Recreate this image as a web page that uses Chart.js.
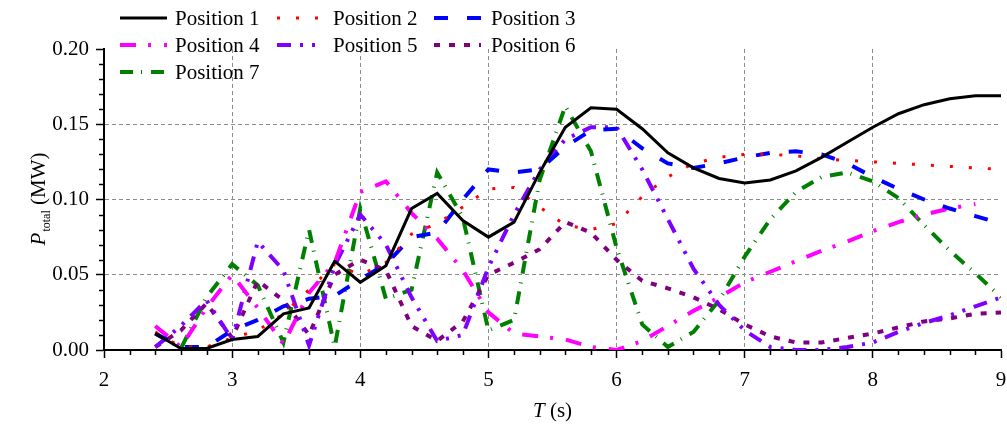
<!DOCTYPE html>
<html>
<head>
<meta charset="utf-8">
<script src="https://cdn.jsdelivr.net/npm/chart.js@4.4.1/dist/chart.umd.min.js"></script>
<style>
html, body { margin: 0; padding: 0; background: #fff; }
#wrap { width: 1007px; height: 428px; }
</style>
</head>
<body>
<div id="wrap"><canvas id="chart" width="1007" height="428"></canvas></div>
<script>
// wave period T (s)
var periods = [2.4, 2.6, 2.8, 3.0, 3.2, 3.4, 3.6, 3.8, 4.0, 4.2, 4.4, 4.6, 4.8, 5.0, 5.2, 5.4, 5.6,
	5.8, 6.0, 6.2, 6.4, 6.6, 6.8, 7.0, 7.2, 7.4, 7.6, 7.8, 8.0, 8.2, 8.4, 8.6, 8.8, 9.0];

// P_total (MW) for each position
var position1 = [0.011, 0.001, 0.001, 0.007, 0.009, 0.024, 0.028, 0.059, 0.045, 0.056, 0.094, 0.104, 0.086, 0.075, 0.085, 0.118, 0.148,
	0.161, 0.160, 0.147, 0.131, 0.121, 0.114, 0.111, 0.113, 0.119, 0.128, 0.138, 0.148, 0.157, 0.163, 0.167, 0.169, 0.169];
var position2 = [0.012, 0.002, 0.002, 0.008, 0.013, 0.024, 0.040, 0.057, 0.050, 0.058, 0.077, 0.084, 0.095, 0.107, 0.108, 0.095, 0.083,
	0.080, 0.084, 0.102, 0.115, 0.124, 0.128, 0.130, 0.130, 0.129, 0.127, 0.126, 0.125, 0.124, 0.123, 0.122, 0.121, 0.120];
var position3 = [0.011, 0.002, 0.002, 0.013, 0.020, 0.029, 0.034, 0.036, 0.047, 0.057, 0.075, 0.078, 0.100, 0.120, 0.118, 0.120, 0.135,
	0.146, 0.147, 0.134, 0.124, 0.121, 0.124, 0.128, 0.131, 0.132, 0.130, 0.124, 0.115, 0.107, 0.100, 0.094, 0.089, 0.084];
var position4 = [0.016, 0.002, 0.028, 0.050, 0.028, 0.004, 0.038, 0.058, 0.105, 0.112, 0.091, 0.074, 0.053, 0.025, 0.011, 0.009, 0.007,
	0.002, 0.000, 0.006, 0.016, 0.026, 0.035, 0.045, 0.052, 0.059, 0.066, 0.072, 0.079, 0.085, 0.090, 0.094, 0.097, null];
var position5 = [0.002, 0.016, 0.033, 0.007, 0.072, 0.053, 0.003, 0.056, 0.090, 0.070, 0.035, 0.006, 0.010, 0.055, 0.090, 0.120, 0.140,
	0.148, 0.148, 0.120, 0.087, 0.054, 0.030, 0.013, 0.002, 0.000, 0.000, 0.002, 0.005, 0.012, 0.018, 0.023, 0.029, 0.035];
var position6 = [0.002, 0.013, 0.031, 0.008, 0.046, 0.033, 0.010, 0.050, 0.060, 0.053, 0.016, 0.006, 0.019, 0.050, 0.058, 0.067, 0.085,
	0.078, 0.060, 0.046, 0.041, 0.035, 0.027, 0.017, 0.009, 0.005, 0.005, 0.008, 0.011, 0.015, 0.019, 0.021, 0.024, 0.025];
var position7 = [0.011, 0.001, 0.035, 0.057, 0.043, 0.005, 0.080, 0.002, 0.094, 0.034, 0.040, 0.118, 0.088, 0.013, 0.020, 0.113, 0.162,
	0.132, 0.068, 0.017, 0.002, 0.012, 0.033, 0.062, 0.087, 0.105, 0.115, 0.118, 0.112, 0.101, 0.083, 0.066, 0.051, 0.035];

var seriesNames = ['Position 1', 'Position 2', 'Position 3', 'Position 4', 'Position 5', 'Position 6', 'Position 7'];
var seriesValues = [position1, position2, position3, position4, position5, position6, position7];

var xTicks = [2, 3, 4, 5, 6, 7, 8, 9];
var yTicks = [0, 0.05, 0.10, 0.15, 0.20];

var lineStyles = [
	{color: '#000000', width: 3, dash: []},
	{color: '#ff0000', width: 3, dash: [3, 16]},
	{color: '#0000ff', width: 4, dash: [14, 19]},
	{color: '#ff00ff', width: 4, dash: [16, 12, 3, 13]},
	{color: '#8000ff', width: 4, dash: [14, 9, 3, 9, 3, 9]},
	{color: '#800080', width: 4, dash: [6, 9]},
	{color: '#008000', width: 4, dash: [13, 8, 1, 9]}
];

var serif = '"Liberation Serif", "Times New Roman", serif';
Chart.defaults.font.family = serif;
Chart.defaults.font.size = 21;
Chart.defaults.color = '#000';

function toPoints(vals)
{
	var pts = [];
	for (var i = 0; i < vals.length; i++) {
		pts.push({x: periods[i], y: vals[i]});
	}
	return pts;
}

var datasets = seriesNames.map(function(name, i) {
	var st = lineStyles[i];
	return {
		label: name,
		data: toPoints(seriesValues[i]),
		borderColor: st.color,
		backgroundColor: st.color,
		borderWidth: st.width,
		borderDash: st.dash,
		pointRadius: 0,
		tension: 0,
		fill: false,
		spanGaps: false
	};
});

var legendTextX = [175, 333, 491];
var legendLineX = [120, 277, 434];
var legendRowY = [18, 45, 72];

var decor = {
	id: 'decor',
	beforeDraw: function(chart) {
		var ctx = chart.ctx;
		ctx.save();
		ctx.fillStyle = '#fff';
		ctx.fillRect(0, 0, chart.width, chart.height);
		ctx.restore();
	},
	afterDraw: function(chart) {
		var ctx = chart.ctx;
		var xs = chart.scales.x, ys = chart.scales.y;
		var area = chart.chartArea;
		ctx.save();

		// minor ticks
		ctx.strokeStyle = '#000';
		ctx.lineWidth = 1.5;
		ctx.beginPath();
		for (var k = 1; k < 35; k++) {
			if (k % 5 === 0) continue;
			var px = Math.round(xs.getPixelForValue(2 + k * 0.2)) + 0.5;
			ctx.moveTo(px, area.bottom);
			ctx.lineTo(px, area.bottom + 5);
		}
		for (var j = 1; j < 20; j++) {
			if (j % 5 === 0) continue;
			var py = Math.round(ys.getPixelForValue(j * 0.01)) + 0.5;
			ctx.moveTo(area.left, py);
			ctx.lineTo(area.left - 5, py);
		}
		ctx.stroke();

		// x title
		ctx.fillStyle = '#000';
		ctx.textBaseline = 'alphabetic';
		var fItal = 'italic 21px ' + serif;
		var fNorm = '21px ' + serif;
		var fSub = '12px ' + serif;
		ctx.font = fItal;
		var wT = ctx.measureText('T').width;
		ctx.font = fNorm;
		var wS = ctx.measureText(' (s)').width;
		var cx = (area.left + area.right) / 2;
		var x0 = cx - (wT + wS) / 2;
		ctx.font = fItal;
		ctx.fillText('T', x0, 417);
		ctx.font = fNorm;
		ctx.fillText(' (s)', x0 + wT, 417);

		// y title (rotated)
		ctx.save();
		ctx.translate(45, (area.top + area.bottom) / 2);
		ctx.rotate(-Math.PI / 2);
		ctx.font = fItal;
		var wP = ctx.measureText('P').width;
		ctx.font = fSub;
		var wSub = ctx.measureText('total').width;
		ctx.font = fNorm;
		var wU = ctx.measureText(' (MW)').width;
		var s0 = -(wP + wSub + wU) / 2;
		ctx.font = fItal;
		ctx.fillText('P', s0, 0);
		ctx.font = fSub;
		ctx.fillText('total', s0 + wP + 1, 5);
		ctx.font = fNorm;
		ctx.fillText(' (MW)', s0 + wP + wSub + 1, 0);
		ctx.restore();

		// legend
		chart.data.datasets.forEach(function(ds, i) {
			var col = i % 3, row = Math.floor(i / 3);
			var ly = legendRowY[row];
			ctx.strokeStyle = ds.borderColor;
			ctx.lineWidth = ds.borderWidth;
			ctx.setLineDash(ds.borderDash);
			ctx.beginPath();
			ctx.moveTo(legendLineX[col], ly);
			ctx.lineTo(legendLineX[col] + 47, ly);
			ctx.stroke();
			ctx.setLineDash([]);
			ctx.fillStyle = '#000';
			ctx.font = fNorm;
			ctx.textBaseline = 'middle';
			ctx.fillText(ds.label, legendTextX[col], ly + 1);
		});
		ctx.restore();
	}
};

function edgeGrid(ctx, lo, hi)
{
	var v = ctx.tick ? ctx.tick.value : null;
	if (v === null || Math.abs(v - lo) < 1e-9 || Math.abs(v - hi) < 1e-9) return 'rgba(0,0,0,0)';
	return '#8c8c8c';
}

var chartCtx = document.getElementById('chart').getContext('2d');
var chart = new Chart(chartCtx, {
	type: 'line',
	data: {datasets: datasets},
	plugins: [decor],
	options: {
		responsive: false,
		animation: false,
		devicePixelRatio: 1,
		layout: {padding: {left: 0, right: 6, top: 49, bottom: 0}},
		plugins: {
			legend: {display: false},
			tooltip: {enabled: false}
		},
		scales: {
			x: {
				type: 'linear',
				min: 2,
				max: 9,
				afterBuildTicks: function(scale) {
					scale.ticks = xTicks.map(function(v) { return {value: v}; });
				},
				afterFit: function(scale) {
					scale.height = 78;
					scale.paddingLeft = 0;
					scale.paddingRight = 0;
				},
				ticks: {
					padding: 10,
					maxRotation: 0,
					font: {size: 21},
					callback: function(v) { return String(v); }
				},
				grid: {
					color: function(c) { return edgeGrid(c, 2, 9); },
					lineWidth: 1,
					tickColor: '#000',
					tickLength: 8,
					tickWidth: 1.5,
					tickBorderDash: []
				},
				border: {display: true, color: '#000', width: 2, dash: [4, 3]}
			},
			y: {
				type: 'linear',
				min: 0,
				max: 0.2,
				afterBuildTicks: function(scale) {
					scale.ticks = yTicks.map(function(v) { return {value: v}; });
				},
				afterFit: function(scale) {
					scale.width = 104;
					scale.paddingTop = 0;
					scale.paddingBottom = 0;
				},
				ticks: {
					padding: 7,
					font: {size: 21},
					callback: function(v) { return Number(v).toFixed(2); }
				},
				grid: {
					color: function(c) { return edgeGrid(c, 0, 0.2); },
					lineWidth: 1,
					tickColor: '#000',
					tickLength: 8,
					tickWidth: 1.5,
					tickBorderDash: []
				},
				border: {display: true, color: '#000', width: 2, dash: [4, 3]}
			}
		}
	}
});
</script>
</body>
</html>
